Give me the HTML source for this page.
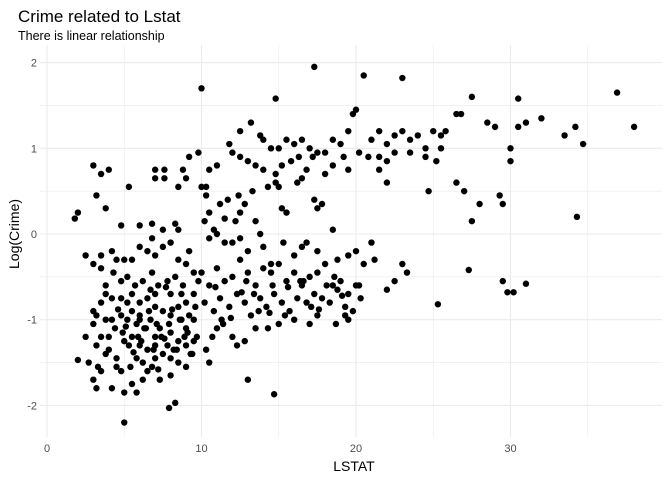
<!DOCTYPE html>
<html><head><meta charset="utf-8"><style>
body{margin:0;background:#fff;font-family:"Liberation Sans",sans-serif;}
svg text{font-family:"Liberation Sans",sans-serif;}
</style></head><body>
<svg id="c" width="672" height="480">
<text x="18" y="22" font-size="17" fill="#000">Crime related to Lstat</text>
<text x="18" y="40" font-size="12.5" fill="#000">There is linear relationship</text>
<g id="grid"></g><g id="pts"></g><g id="ticks"></g>
<text x="354" y="471" font-size="14" text-anchor="middle">LSTAT</text>
<text transform="translate(19,234) rotate(-90)" font-size="14" text-anchor="middle">Log(Crime)</text>
</svg>
<script>
const xTicks=[0,10,20,30];
const yTicks=[-2,-1,0,1,2];
const lstat=[3,3.5,4,3.2,2,1.8,3.8,5.3,7,7.6,7,7.6,9.2,9.8,10,8.8,9,8.5,10,10.3,4.8,6,6.8,7.5,8.3,8.5,
10.5,11,12,12.5,13.8,14,14.5,15,15.5,16,16.5,17,17.3,18,18.5,19,19.5,19.8,20,20.5,21,21.5,22,22.5,23,23,23.5,24,24.5,25,25.5,14.8,13.2,12.5,11.8,
13,13.5,14,14.8,15.2,15.8,16.3,16.8,17.2,17.5,18,18.5,19.2,19.5,20.2,20.8,21.5,22,22.5,23.5,24.5,25.2,14.3,14.8,15,16.2,16.5,17.3,17.8,17.5,15.2,15.5,13.3,12.4,12.8,11.2,11.7,10.3,10.5,11.5,12.2,12.5,13.5,11,10.5,12,13,14,14.5,16.5,16.8,18.5,20,21,21.2,20.2,21.5,22,24.7,26.5,27,28,29.3,29.5,26.5,27.5,28.5,29,30,30.5,30.5,31,32,33.5,34.2,34.7,36.9,38,34.3,30,26.8,25.8,25.5,27.5,27.3,23,22.5,22,25.3,29.5,29.8,30.2,31,23.3,
10,10.5,11,11.5,12,12.5,13,13.5,14,14.5,15,15.5,16,16.5,17,17.5,18,18.5,19,19.5,20,10.2,10.8,11.2,11.8,12.3,12.8,13.2,13.8,14.2,14.7,15.2,15.7,16.2,16.8,17.3,17.8,18.3,18.8,19.3,19.8,20.3,12,12.3,12.8,13.5,14.3,15,16,17,17.5,19.3,19.5,18.7,13,14.7,11.3,11,10.7,10.3,10.5,9.5,9,8.5,8,8.3,7.9,5,7.3,7,
2,2.5,3,3.2,3,3.3,3.5,3.2,3.8,4,4.5,4.8,5,5.5,5.8,6.2,6.5,4.2,4.5,3,3.2,3.5,3.8,4.2,4.8,5.2,5.5,5.8,6,6.3,6.7,7,7.3,7.8,8,8.5,9,9.5,5.5,6,6.5,7,5,4.2,4.8,5.2,5.5,6,6.5,7,7.5,8,8.5,9,9.5,9.8,8.8,8.3,7.8,7.2,6.8,6.2,5.7,5.2,4.8,4.3,3.8,3.5,3,2.5,3.5,4.2,4.5,5,6,6.5,7,7.5,8,8.5,9,9.2,3.8,5.5,6.8,9.5,8,7,6,4,3.5,5.8,6.8,7.5,8,9,9.7,9.2,8.7,2.7,
10.2,10.8,11.5,12.5,13.8,15.3,16,17.5,18.8,19.5,20.5,
4.4,4.9,5.3,5.9,6.4,6.9,7.4,7.9,8.4,8.9,9.4,4.6,5.1,5.6,6.1,6.6,7.1,7.6,8.1,8.6,9.1,9.6,5.4,6.2,7.2,8.2,9.3,6.7,7.7,8.7,10.9,11.4,12.9,13.7,14.6,15.4,16.4,17.1,18.1,19.1,11.9,12.6,13.4,14.4,15.6,16.6,17.6,18.6];
const logCrime=[0.8,0.7,0.75,0.45,0.25,0.18,0.3,0.55,0.75,0.75,0.65,0.65,0.9,0.95,1.7,0.75,0.65,0.55,0.55,0.55,0.1,0.1,0.12,0.05,0.12,0.05,
0.75,0.8,0.95,0.9,1.15,1.1,1.0,1.0,1.1,1.05,1.1,1.0,1.95,0.95,1.1,1.05,1.2,1.4,1.45,1.85,1.1,1.2,1.05,1.15,1.82,1.2,1.1,1.15,1.0,1.2,1.15,1.58,1.3,1.2,1.05,
0.85,0.8,0.75,0.7,0.8,0.85,0.9,0.75,0.9,0.95,0.7,0.8,0.9,0.75,0.95,0.9,0.9,0.85,0.95,0.95,0.9,0.85,0.55,0.6,0.55,0.6,0.65,0.4,0.35,0.3,0.3,0.25,0.5,0.45,0.35,0.35,0.4,0.45,0.25,0.18,0.15,0.25,0.15,0.0,-0.05,-0.1,-0.2,-0.15,-0.35,-0.15,-0.1,0.05,-0.2,-0.1,-0.3,-0.6,0.75,0.6,0.5,0.6,0.5,0.35,0.45,0.35,1.4,1.6,1.3,1.25,1.0,1.58,1.25,1.3,1.35,1.15,1.25,1.05,1.65,1.25,0.2,0.85,1.4,1.2,1.0,0.15,-0.42,-0.35,-0.55,-0.65,-0.82,-0.55,-0.68,-0.68,-0.58,-0.45,
-0.45,-0.6,-0.4,-0.55,-0.5,-0.3,-0.45,-0.6,-0.4,-0.45,-0.35,-0.55,-0.45,-0.6,-0.5,-0.45,-0.35,-0.6,-0.55,-0.7,-0.6,-0.8,-0.9,-0.75,-0.85,-0.7,-0.8,-0.95,-0.75,-0.85,-0.7,-0.8,-0.9,-0.75,-0.8,-0.7,-0.75,-0.8,-0.65,-0.85,-0.9,-0.75,-1.2,-1.3,-1.25,-1.1,-1.1,-1.05,-1.0,-1.05,-0.95,-0.95,-1.0,-1.05,-1.7,-1.87,-1.0,-1.1,-1.2,-1.35,-1.5,-1.25,-1.3,-1.5,-1.65,-1.97,-2.03,-2.2,-1.7,-1.45,
-1.47,-1.2,-1.05,-1.3,-1.7,-1.55,-1.6,-1.8,-1.4,-1.35,-1.45,-1.6,-1.85,-1.75,-1.85,-1.7,-1.6,-1.8,-1.55,-0.9,-0.95,-0.8,-1.0,-1.0,-0.95,-1.0,-0.9,-1.05,-0.95,-1.1,-1.0,-1.2,-1.1,-1.3,-1.15,-1.25,-1.1,-1.0,-1.2,-1.3,-1.35,-1.3,-1.25,-0.75,-0.75,-0.8,-0.7,-0.8,-0.75,-0.85,-0.9,-0.95,-0.85,-0.8,-0.7,-0.55,-0.6,-0.5,-0.55,-0.6,-0.45,-0.55,-0.6,-0.5,-0.55,-0.45,-0.6,-0.4,-0.35,-0.25,-0.25,-0.2,-0.3,-0.3,-0.15,-0.2,-0.25,-0.15,-0.1,-0.3,-0.35,-0.2,-0.7,-0.3,-0.05,-0.45,-0.7,-0.7,-1.0,-1.2,-1.2,-1.45,-1.55,-1.4,-1.45,-1.55,-1.2,-0.95,-1.0,-1.5,
0.15,0.05,-0.1,-0.05,0.0,-0.1,-0.25,-0.2,-0.3,-0.25,-0.35,
-1.1,-1.15,-1.3,-1.2,-1.1,-1.35,-1.2,-1.05,-1.35,-1.2,-1.4,-0.88,-1.08,-1.38,-1.25,-0.9,-1.05,-1.22,-0.88,-1.0,-1.15,-0.85,-1.55,-1.5,-1.58,-1.35,-1.4,-0.65,-0.62,-0.7,-0.62,-1.05,-0.55,-0.9,-0.6,-0.95,-0.55,-0.85,-0.6,-0.72,-0.98,-0.68,-0.7,-0.92,-0.62,-0.55,-0.88,-0.5];
const NS='http://www.w3.org/2000/svg';
const L=40,R=662,T=45,B=437;
const xs=v=>47+v*15.45;
const ys=v=>234-v*85.7;
const grid=document.getElementById('grid'),ticks=document.getElementById('ticks'),pts=document.getElementById('pts');
function line(x1,y1,x2,y2,w,name){const l=document.createElementNS(NS,'line');
l.setAttribute('x1',x1);l.setAttribute('y1',y1);l.setAttribute('x2',x2);l.setAttribute('y2',y2);
l.setAttribute('stroke','#ebebeb');l.setAttribute('stroke-width',w);


grid.appendChild(l);}
for(let i=0;i<xTicks.length;i++){const v=xTicks[i];line(xs(v),T,xs(v),B,1.1,'x-gridline');line(xs(v+5),T,xs(v+5),B,0.6,'x-minor-gridline');
const t=document.createElementNS(NS,'text');t.setAttribute('x',xs(v));t.setAttribute('y',B+15);t.setAttribute('font-size','11');t.setAttribute('fill','#4d4d4d');t.setAttribute('text-anchor','middle');t.textContent=v;


ticks.appendChild(t);}
for(let i=0;i<yTicks.length;i++){const v=yTicks[i];line(L,ys(v),R,ys(v),1.1,'y-gridline');if(i<yTicks.length-1)line(L,ys(v+0.5),R,ys(v+0.5),0.6,'y-minor-gridline');
const t=document.createElementNS(NS,'text');t.setAttribute('x',L-3);t.setAttribute('y',ys(v)+4);t.setAttribute('font-size','11');t.setAttribute('fill','#4d4d4d');t.setAttribute('text-anchor','end');t.textContent=v;


ticks.appendChild(t);}
for(let i=0;i<lstat.length;i++){const c=document.createElementNS(NS,'circle');
c.setAttribute('cx',xs(lstat[i]));c.setAttribute('cy',ys(logCrime[i]));c.setAttribute('r',3.2);c.setAttribute('fill','#000');


pts.appendChild(c);}
</script>
</body></html>
